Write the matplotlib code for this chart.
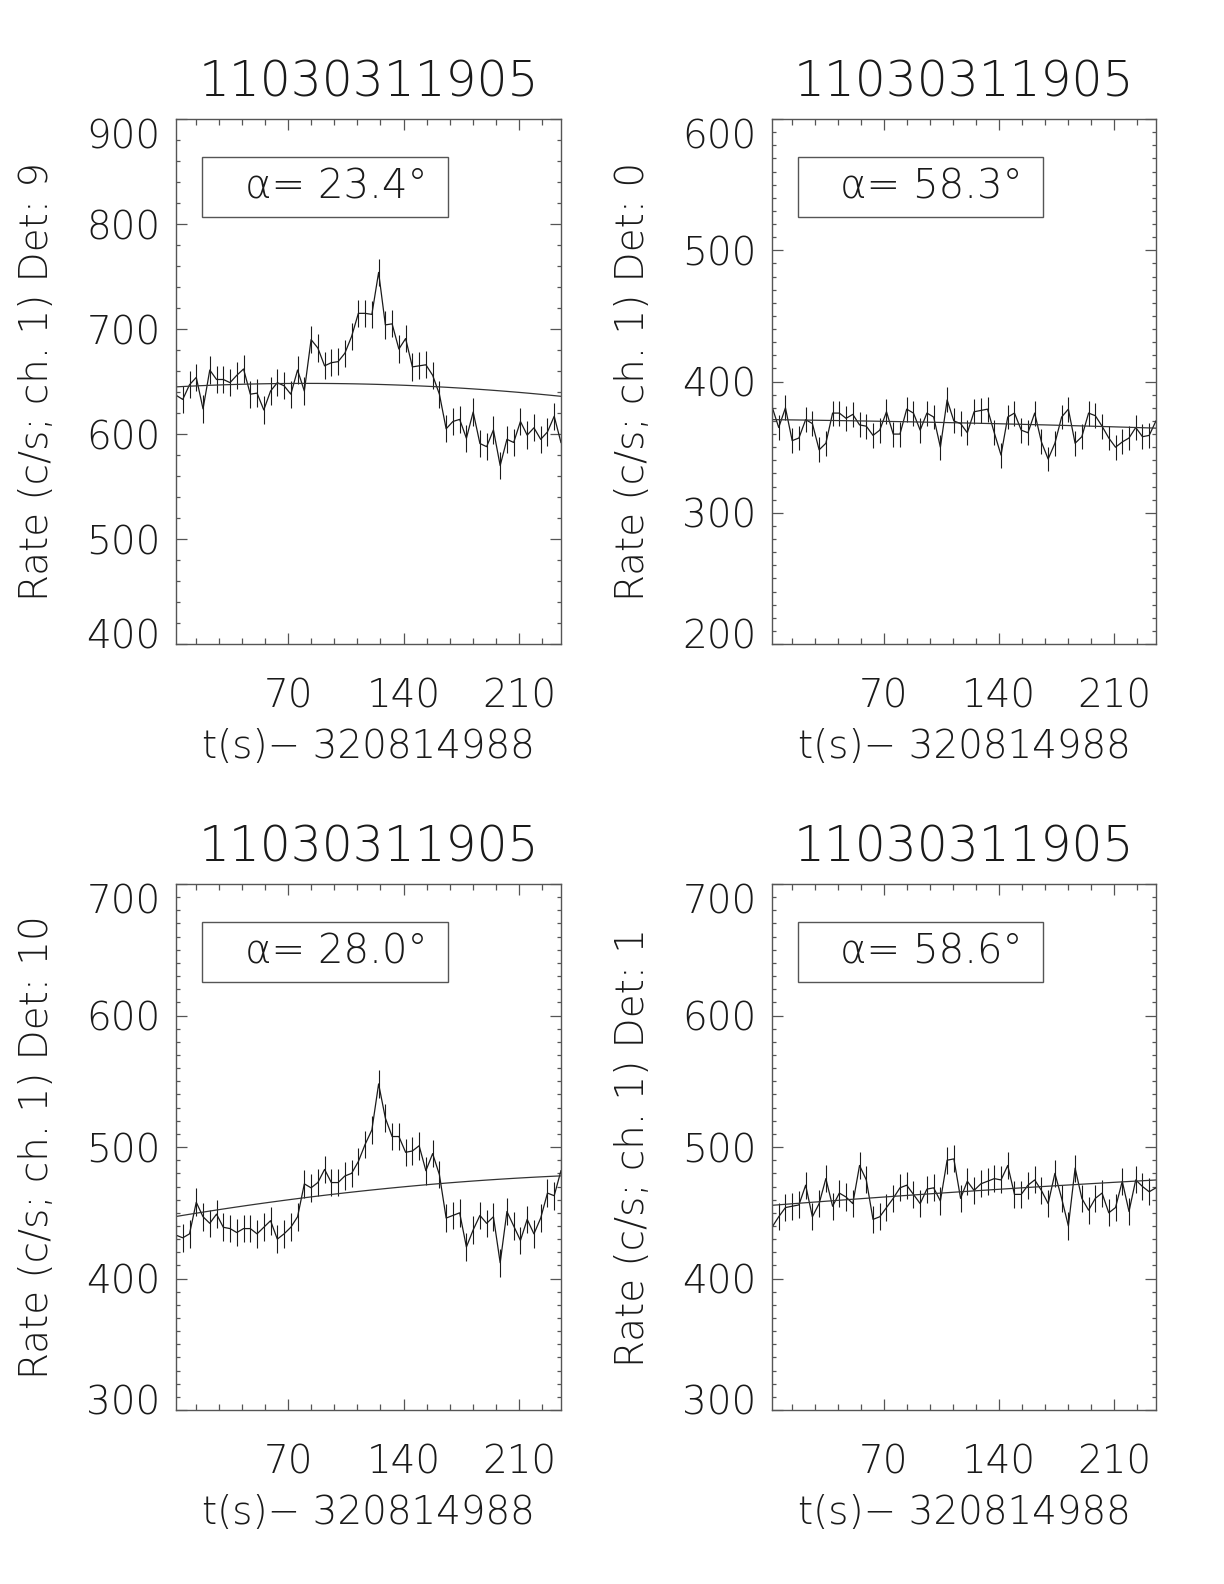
import numpy as np
import matplotlib
matplotlib.use("Agg")
import matplotlib.pyplot as plt
from matplotlib.patches import Rectangle
from matplotlib.ticker import MultipleLocator, FixedLocator, FuncFormatter

plt.rcParams['font.family'] = ['DejaVu Sans']
plt.rcParams['font.weight'] = 200
plt.rcParams['axes.titleweight'] = 200
plt.rcParams['axes.labelweight'] = 200

# time bins (s since trigger reference)
t_start = 2.0
bin_width = 4.096
n_bins = 58
t = t_start + bin_width * np.arange(n_bins)

trigger_name = "11030311905"
t_ref = "320814988"

# Det 9
rate_det9 = [637, 633, 647, 654, 624, 661, 652, 652, 649, 656, 662, 638, 639, 623,
             641, 649, 646, 638, 661, 641, 690, 682, 665, 668, 669, 677, 693, 715,
             715, 714, 754, 704, 705, 681, 691, 664, 665, 666, 656, 638, 605, 612,
             614, 596, 621, 591, 588, 604, 570, 595, 592, 612, 599, 606, 595, 602,
             617, 592]
err_det9 = 13.0
bkg_det9 = [-5.2e-4, 0.0850, 644.8]   # polynomial coeffs (t^2, t, 1)

# Det 0
rate_det0 = [381, 365, 380, 355, 357, 371, 368, 348, 353, 376, 376, 372, 375, 367,
             366, 359, 363, 377, 360, 360, 379, 376, 363, 376, 373, 350, 386, 370,
             368, 361, 377, 378, 379, 361, 344, 373, 376, 363, 361, 376, 354, 341,
             353, 373, 379, 353, 358, 376, 374, 366, 357, 350, 354, 357, 365, 358,
             359, 370]
err_det0 = 9.5
bkg_det0 = [-5.28e-5, -0.0152, 371.03]

# Det 10
rate_det10 = [433, 431, 434, 458, 447, 442, 449, 439, 438, 435, 438, 438, 434, 439,
              444, 430, 434, 439, 447, 472, 469, 473, 483, 473, 473, 478, 480, 489,
              502, 513, 548, 522, 508, 508, 496, 497, 501, 482, 495, 479, 446, 448,
              450, 424, 437, 448, 442, 447, 412, 451, 440, 429, 445, 434, 446, 465,
              463, 482]
err_det10 = 10.5
bkg_det10 = [-3.27e-4, 0.2099, 446.78]

# Det 1
rate_det1 = [439, 447, 454, 455, 456, 471, 447, 457, 476, 455, 465, 462, 457, 486,
             475, 445, 447, 454, 461, 469, 471, 464, 457, 468, 469, 459, 490, 491,
             461, 474, 467, 472, 474, 476, 475, 486, 464, 464, 471, 475, 467, 457,
             480, 461, 440, 484, 461, 452, 461, 465, 450, 454, 474, 451, 475, 470,
             466, 469]
err_det1 = 10.3
bkg_det1 = [-6.15e-5, 0.0971, 455.5]

panels = [
    (rate_det9, err_det9, bkg_det9, "9", 23.4, (400, 900), 20),
    (rate_det0, err_det0, bkg_det0, "0", 58.3, (200, 600), 10),
    (rate_det10, err_det10, bkg_det10, "10", 28.0, (300, 700), 10),
    (rate_det1, err_det1, bkg_det1, "1", 58.6, (300, 700), 10),
]

positions = [
    [0.1438, 0.5934, 0.3145, 0.3314],
    [0.6307, 0.5934, 0.3137, 0.3314],
    [0.1438, 0.1098, 0.3145, 0.3321],
    [0.6307, 0.1098, 0.3137, 0.3321],
]

ink = '#1a1a1a'
label_size = 28
ypad_pt = 11
fig = plt.figure(figsize=(12.24, 15.84), dpi=100)

for pos, (rate, err, bkg, det, alpha, ylim, yminor) in zip(positions, panels):
    ax = fig.add_axes(pos)
    rate = np.asarray(rate, dtype=float)

    ax.errorbar(t, rate, yerr=err, fmt='none', ecolor=ink, elinewidth=0.8, capsize=0)
    ax.plot(t, rate, color=ink, lw=0.9)
    ax.plot(t, np.polyval(bkg, t), color='#333333', lw=0.9)

    ax.set_xlim(t[0], t[-1])
    ax.set_ylim(*ylim)
    ax.xaxis.set_major_locator(FixedLocator([70, 140, 210]))
    ax.xaxis.set_minor_locator(MultipleLocator(14))
    ax.yaxis.set_major_locator(MultipleLocator(100))
    ax.yaxis.set_minor_locator(MultipleLocator(yminor))
    # end labels are drawn separately, IDL style (kept inside the axis range)
    ax.yaxis.set_major_formatter(FuncFormatter(
        lambda v, p, lo=ylim[0], hi=ylim[1]: "" if v in (lo, hi) else f"{v:.0f}"))

    ax.tick_params(which='both', direction='in', top=True, right=True,
                   colors='#555555', labelcolor=ink, labelsize=label_size, width=0.9)
    ax.tick_params(axis='x', which='major', length=8, pad=24)
    ax.tick_params(axis='x', which='minor', length=4.3)
    ax.tick_params(axis='y', which='major', length=8, pad=ypad_pt)
    ax.tick_params(axis='y', which='minor', length=3)
    for s in ax.spines.values():
        s.set_color('#555555')
        s.set_linewidth(1.0)

    for yv, dy in ((ylim[0], 11), (ylim[1], -14)):
        ax.annotate(f"{yv}", xy=(0, yv), xycoords=('axes fraction', 'data'),
                    xytext=(-ypad_pt, dy * 0.72), textcoords='offset points',
                    ha='right', va='center_baseline', fontsize=label_size,
                    color=ink, fontweight=200)

    ax.set_title(trigger_name, fontsize=35, color=ink, pad=16)
    ax.set_xlabel("t(s)\u2212 " + t_ref, fontsize=label_size, color=ink, labelpad=9)
    ax.set_ylabel("Rate (c/s; ch. 1) Det: " + det, fontsize=label_size, color=ink,
                  labelpad=22)

    ax.add_patch(Rectangle((0.068, 0.813), 0.638, 0.115, transform=ax.transAxes,
                           fill=False, edgecolor='#555555', lw=1.0))
    ax.text(0.416, 0.870, f"\u03b1= {alpha:.1f}\u00b0", transform=ax.transAxes,
            ha='center', va='center', fontsize=29, color=ink, fontweight=200)

fig.savefig("out.png", dpi=100)
